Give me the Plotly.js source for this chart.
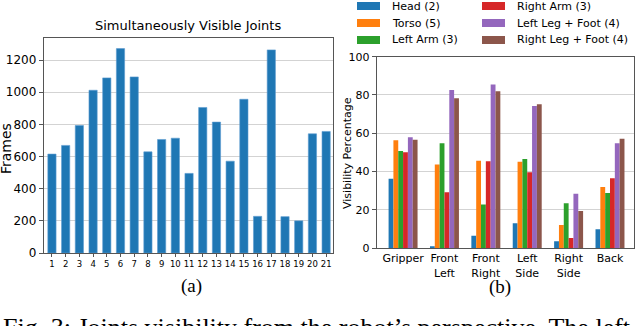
<!DOCTYPE html>
<html>
<head>
<meta charset="utf-8">
<script src="https://cdn.plot.ly/plotly-3.0.1.min.js"></script>
<style>
  html, body { margin: 0; padding: 0; background: #fff; }
  #chart { width: 640px; height: 326px; }
</style>
</head>
<body>
<div id="chart"></div>
<script>
// === Data: (a) joints visible at the same time ===
const jointCounts = [1, 2, 3, 4, 5, 6, 7, 8, 9, 10, 11, 12, 13, 14, 15, 16, 17, 18, 19, 20, 21];
const frames = [615, 669, 793, 1012, 1089, 1271, 1095, 629, 706, 714, 495, 905, 814, 571, 956, 228, 1263, 226, 200, 741, 756];

// === Data: (b) visibility per camera view ===
const views = ['Gripper', 'Front<br>Left', 'Front<br>Right', 'Left<br>Side', 'Right<br>Side', 'Back'];
const partNames = ['Head (2)', 'Torso (5)', 'Left Arm (3)', 'Right Arm (3)', 'Left Leg + Foot (4)', 'Right Leg + Foot (4)'];
const headVis = [36.2, 0.9, 6.4, 12.9, 3.5, 9.8];
const torsoVis = [56.3, 43.7, 45.6, 45.1, 12.0, 31.9];
const leftArmVis = [50.7, 54.7, 22.8, 46.5, 23.4, 28.7];
const rightArmVis = [50.0, 29.1, 45.3, 39.6, 5.2, 36.4];
const leftLegVis = [57.9, 82.6, 85.5, 74.2, 28.4, 54.7];
const rightLegVis = [56.6, 78.3, 81.9, 75.1, 19.3, 57.1];
const partColors = ['#1f77b4', '#ff7f0e', '#2ca02c', '#d62728', '#9467bd', '#8c564b'];

const FONT = 'DejaVu Sans, sans-serif';
const SERIF = 'Liberation Serif, DejaVu Serif, serif';
const W = 640, H = 326;
const px = x => x / W;          // pixel -> paper x
const py = y => 1 - y / H;      // pixel -> paper y

const traces = [];

// left bar chart
traces.push({
  x: jointCounts,
  y: frames,
  type: 'bar',
  width: 0.6,
  xaxis: 'x',
  yaxis: 'y',
  marker: { color: '#1f77b4', line: { color: '#5a9bd0', width: 0.6 } },
  showlegend: false,
  hovertemplate: '%{x} joints: %{y} frames<extra></extra>'
});

// right grouped bars
const partValues = [headVis, torsoVis, leftArmVis, rightArmVis, leftLegVis, rightLegVis];
partValues.forEach((vals, i) => {
  traces.push({
    x: views,
    y: vals,
    type: 'bar',
    name: partNames[i],
    xaxis: 'x2',
    yaxis: 'y2',
    showlegend: false,
    marker: { color: partColors[i] },
    hovertemplate: '%{x}: %{y:.1f}%<extra>' + partNames[i] + '</extra>'
  });
});

const frameAxis = {
  showline: true, mirror: true, linecolor: '#555', linewidth: 1.2,
  ticks: 'outside', ticklen: 4, tickcolor: '#555',
  zeroline: false, automargin: false
};

function label(text, x, y, size, extra) {
  return Object.assign({
    text: text, xref: 'paper', yref: 'paper', x: px(x), y: py(y),
    xanchor: 'center', yanchor: 'middle', showarrow: false,
    font: { family: FONT, size: size, color: '#000' }
  }, extra || {});
}

const annotations = [
  label('Simultaneously Visible Joints', 188, 25, 13),
  label('Frames', 6, 149, 14, { textangle: -90 }),
  label('Visibility Percentage', 348, 153, 11, { textangle: -90 }),
  label('(a)', 191, 286, 19, { font: { family: SERIF, size: 19, color: '#000' } }),
  label('(b)', 500, 287, 19, { font: { family: SERIF, size: 19, color: '#000' } }),
  label('Fig. 3: Joints visibility from the robot\u2019s perspective. The left', 1, 311, 26,
        { xanchor: 'left', yanchor: 'top', font: { family: SERIF, size: 26, color: '#000' } })
];
const shapes = [];

// legend in two columns (matplotlib style: column by column)
partNames.forEach((name, i) => {
  const col = Math.floor(i / 3), row = i % 3;
  const sx = col === 0 ? 357 : 482;
  const cy = 6 + row * 17;
  shapes.push({
    type: 'rect', xref: 'paper', yref: 'paper',
    x0: px(sx), x1: px(sx + 23), y0: py(cy + 4), y1: py(cy - 4),
    fillcolor: partColors[i], line: { width: 0 }
  });
  annotations.push(label(name, sx + 33, cy, 11, { xanchor: 'left' }));
});

const layout = {
  width: W,
  height: H,
  margin: { l: 0, r: 0, t: 0, b: 0, autoexpand: false },
  paper_bgcolor: '#fff',
  plot_bgcolor: '#fff',
  barmode: 'group',
  bargap: 0.3,
  bargroupgap: 0,
  showlegend: false,
  font: { family: FONT, color: '#000' },
  xaxis: Object.assign({}, frameAxis, {
    domain: [px(44), px(333)],
    range: [0.42, 21.5],
    tickmode: 'array',
    tickvals: jointCounts,
    ticktext: jointCounts.map(String),
    ticklen: 3,
    tickfont: { family: FONT, size: 8.5 },
    showgrid: false
  }),
  yaxis: Object.assign({}, frameAxis, {
    domain: [py(253), py(38)],
    range: [0, 1337],
    tickvals: [0, 200, 400, 600, 800, 1000, 1200],
    tickfont: { family: FONT, size: 12 },
    showgrid: true, gridcolor: '#d3d3d3', gridwidth: 1
  }),
  xaxis2: Object.assign({}, frameAxis, {
    domain: [px(377), px(634)],
    anchor: 'y2',
    type: 'category',
    range: [-0.63, 5.58],
    ticks: '',
    tickfont: { family: FONT, size: 11 },
    showgrid: false
  }),
  yaxis2: Object.assign({}, frameAxis, {
    domain: [py(248), py(56.7)],
    anchor: 'x2',
    range: [0, 100],
    tickvals: [0, 20, 40, 60, 80, 100],
    tickfont: { family: FONT, size: 11 },
    showgrid: true, gridcolor: '#d3d3d3', gridwidth: 1
  }),
  shapes: shapes,
  annotations: annotations
};

Plotly.newPlot('chart', traces, layout, { displayModeBar: false, staticPlot: true });
</script>
</body>
</html>
